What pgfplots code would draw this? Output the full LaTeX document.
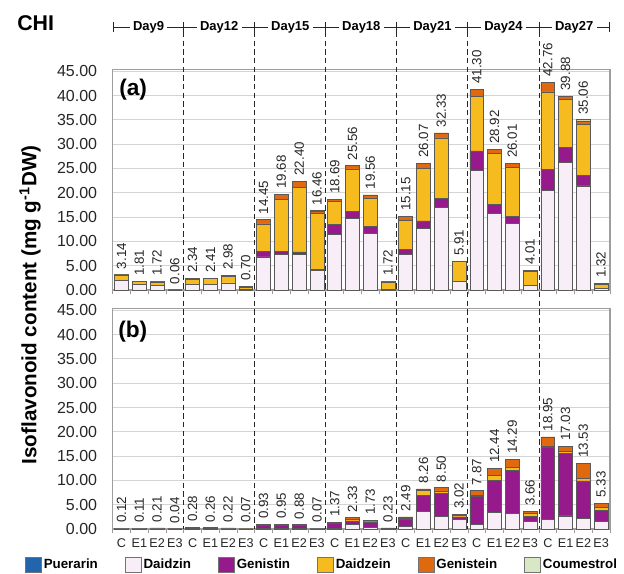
\documentclass[border=0pt]{standalone}
\usepackage{fontspec}
\setmainfont{Liberation Sans}
\usepackage{pgfplots}
\usepackage{pgfplotstable}
\pgfplotsset{compat=1.18}

\definecolor{cpue}{HTML}{2166AC}
\definecolor{cdzin}{HTML}{F8EEF8}
\definecolor{cgtin}{HTML}{961A8C}
\definecolor{cdein}{HTML}{F6BC1F}
\definecolor{cgein}{HTML}{E0680E}
\definecolor{ccou}{HTML}{D8E7C4}

% panel (a)
\pgfplotstableread{
x dzin gtin dein gein cou tot
0 1.90 0.00 1.20 0.04 0.001 3.14
1 1.20 0.00 0.55 0.06 0.001 1.81
2 1.00 0.00 0.65 0.07 0.001 1.72
3 0.03 0.00 0.03 0.00 0.001 0.06
4 1.10 0.00 1.05 0.19 0.001 2.34
5 1.10 0.00 1.20 0.11 0.001 2.41
6 1.45 0.00 1.40 0.13 0.001 2.98
7 0.20 0.00 0.40 0.10 0.001 0.70
8 6.80 1.20 5.60 0.85 0.001 14.45
9 7.30 0.70 10.60 1.08 0.001 19.68
10 7.30 0.55 13.25 1.30 0.001 22.40
11 4.10 0.10 11.50 0.46 0.30 16.46
12 11.40 2.05 4.75 0.49 0.001 18.69
13 14.70 1.50 8.70 0.66 0.001 25.56
14 11.60 1.40 5.90 0.66 0.001 19.56
15 0.10 0.00 1.55 0.07 0.001 1.72
16 7.30 1.10 5.90 0.85 0.001 15.15
17 12.60 1.60 10.85 1.02 0.001 26.07
18 17.00 1.90 12.40 1.03 0.001 32.33
19 1.80 0.00 4.05 0.06 0.001 5.91
20 24.60 4.00 11.30 1.40 0.001 41.30
21 15.80 1.80 10.50 0.82 0.001 28.92
22 13.70 1.50 10.05 0.76 0.001 26.01
23 1.00 0.00 2.75 0.26 0.001 4.01
24 20.50 4.35 15.90 2.01 0.001 42.76
25 26.30 3.10 9.85 0.63 0.001 39.88
26 21.40 2.20 10.50 0.70 0.26 35.06
27 0.30 0.00 0.90 0.12 0.001 1.32
}\dataA

% panel (b)
\pgfplotstableread{
x dzin gtin dein gein cou tot
0 0.02 0.05 0.00 0.05 0.001 0.12
1 0.02 0.05 0.00 0.04 0.001 0.11
2 0.03 0.12 0.00 0.06 0.001 0.21
3 0.01 0.02 0.00 0.01 0.001 0.04
4 0.05 0.05 0.08 0.10 0.001 0.28
5 0.05 0.05 0.08 0.08 0.001 0.26
6 0.03 0.12 0.02 0.05 0.001 0.22
7 0.01 0.00 0.02 0.04 0.001 0.07
8 0.15 0.65 0.00 0.13 0.001 0.93
9 0.20 0.60 0.00 0.15 0.001 0.95
10 0.15 0.60 0.00 0.13 0.001 0.88
11 0.03 0.02 0.00 0.02 0.001 0.07
12 0.15 1.00 0.05 0.17 0.001 1.37
13 0.96 0.69 0.30 0.38 0.001 2.33
14 0.40 0.95 0.10 0.28 0.001 1.73
15 0.05 0.10 0.00 0.08 0.001 0.23
16 0.55 1.45 0.10 0.39 0.001 2.49
17 3.65 3.30 0.95 0.36 0.001 8.26
18 2.60 4.75 0.50 0.65 0.001 8.50
19 2.00 0.50 0.30 0.22 0.001 3.02
20 0.95 5.80 0.10 1.02 0.001 7.87
21 3.45 6.55 0.95 1.49 0.001 12.44
22 3.15 8.85 0.60 1.69 0.001 14.29
23 1.60 1.00 0.60 0.46 0.001 3.66
24 2.05 14.85 0.10 1.95 0.001 18.95
25 2.70 12.90 0.30 1.13 0.001 17.03
26 2.25 7.65 0.50 3.13 0.001 13.53
27 1.60 2.25 0.55 0.93 0.001 5.33
}\dataB

\pgfplotsset{
  sq legend/.style={
    legend image code/.code={\draw[##1,draw=black!55,line width=0.6pt] (0pt,-5.5pt) rectangle (12pt,5.5pt);}
  },
  bar/.style={draw=black!65, line width=0.5pt, sq legend},
  vals/.style={
    nodes near coords, point meta=explicit symbolic,
    every node near coord/.append style={rotate=90, anchor=west, inner xsep=4pt, inner ysep=0pt,
      font=\fontsize{10}{12}\selectfont, text=black!85}
  },
  panel/.style={
    scale only axis, width=373pt, height=165.5pt,
    xmin=-0.5, xmax=27.5, ymin=0, ymax=45.4,
    ybar stacked, bar width=0.78,
    clip=false,
    ytick={0,5,...,45},
    ymajorgrids, grid style={draw=black!17, line width=0.7pt},
    axis line style={draw=black!38, line width=0.9pt},
    xtick={0,...,27},
    minor xtick={-0.5,0.5,...,27.5},
    major tick length=0pt, minor tick length=3pt,
    tick align=outside, tick pos=left,
    tick style={draw=black!40, line width=0.6pt},
    /pgf/number format/assume math mode=true,
    y tick label style={/pgf/number format/fixed, /pgf/number format/fixed zerofill,
      /pgf/number format/precision=2, font=\fontsize{12}{14}\selectfont,
      inner xsep=0pt, xshift=-11.5pt, text=black!85},
    x tick label style={font=\fontsize{9.5}{11}\selectfont, inner sep=0pt, yshift=-7pt, text=black!85},
  },
}

\begin{document}
\begin{tikzpicture}
\begin{scope}[x=0.75pt,y=-0.75pt]
\path[use as bounding box] (0,0) rectangle (624,574);
\end{scope}

\begin{axis}[panel, at={(84.5pt,-217.5pt)}, anchor=south west, xticklabels={}]
\addplot[bar, fill=cdzin] table[x=x,y=dzin]{\dataA};
\addplot[bar, fill=cgtin] table[x=x,y=gtin]{\dataA};
\addplot[bar, fill=cdein] table[x=x,y=dein]{\dataA};
\addplot[bar, fill=cgein] table[x=x,y=gein]{\dataA};
\addplot[bar, fill=ccou, vals] table[x=x,y=cou,meta=tot]{\dataA};
\end{axis}

\begin{axis}[panel, at={(84.5pt,-396.75pt)}, anchor=south west,
  xticklabels={C,E1,E2,E3,C,E1,E2,E3,C,E1,E2,E3,C,E1,E2,E3,C,E1,E2,E3,C,E1,E2,E3,C,E1,E2,E3},
  legend columns=6,
  legend style={draw=none, fill=none, inner sep=0pt, outer sep=0pt,
    at={(axis description cs:-0.1763,-0.163)}, anchor=west,
    font=\bfseries\fontsize{10}{12}\selectfont,
    nodes={inner xsep=1.5pt},
    /tikz/every even column/.append style={column sep=18.7pt}},
  ]
\addlegendimage{sq legend, fill=cpue}
\addplot[bar, fill=cdzin] table[x=x,y=dzin]{\dataB};
\addplot[bar, fill=cgtin] table[x=x,y=gtin]{\dataB};
\addplot[bar, fill=cdein] table[x=x,y=dein]{\dataB};
\addplot[bar, fill=cgein] table[x=x,y=gein]{\dataB};
\addplot[bar, fill=ccou, vals] table[x=x,y=cou,meta=tot]{\dataB};
\legend{Puerarin,Daidzin,Genistin,Daidzein,Genistein,Coumestrol}
\end{axis}

\begin{scope}[x=0.75pt,y=-0.75pt]
% title
\node[anchor=west, font=\bfseries\fontsize{16}{19}\selectfont, inner sep=0pt] at (17,23) {CHI};
% day bracket
\draw[black!85, line width=0.7pt] (113.5,27) -- (609.5,27);
\foreach \xx in {113.5,183.7,254.8,325.8,396.9,467.9,539.0,609.5}
  \draw[black!85, line width=0.7pt] (\xx,22) -- (\xx,32);
\foreach \xx/\lab in {148.6/Day9,219.2/Day12,290.3/Day15,361.3/Day18,432.4/Day21,503.4/Day24,574.2/Day27}
  \node[fill=white, inner xsep=2.5pt, inner ysep=1pt, font=\bfseries\fontsize{9.75}{11}\selectfont] at (\xx,27) {\lab};
% dashed separators
\foreach \xx in {183.7,254.8,325.8,396.9,467.9,539.0}
  \draw[black!85, line width=0.7pt, dash pattern=on 4pt off 2.5pt] (\xx,32) -- (\xx,529);
% panel labels
\node[anchor=west, font=\bfseries\fontsize{17}{20}\selectfont, inner sep=0pt] at (119,90) {(a)};
\node[anchor=west, font=\bfseries\fontsize{17}{20}\selectfont, inner sep=0pt] at (118,332) {(b)};
% y label
\node[rotate=90, font=\bfseries\fontsize{15.5}{18}\selectfont] at (30,305) {Isoflavonoid content (mg g\textsuperscript{-1}DW)};
\end{scope}
\end{tikzpicture}
\end{document}
